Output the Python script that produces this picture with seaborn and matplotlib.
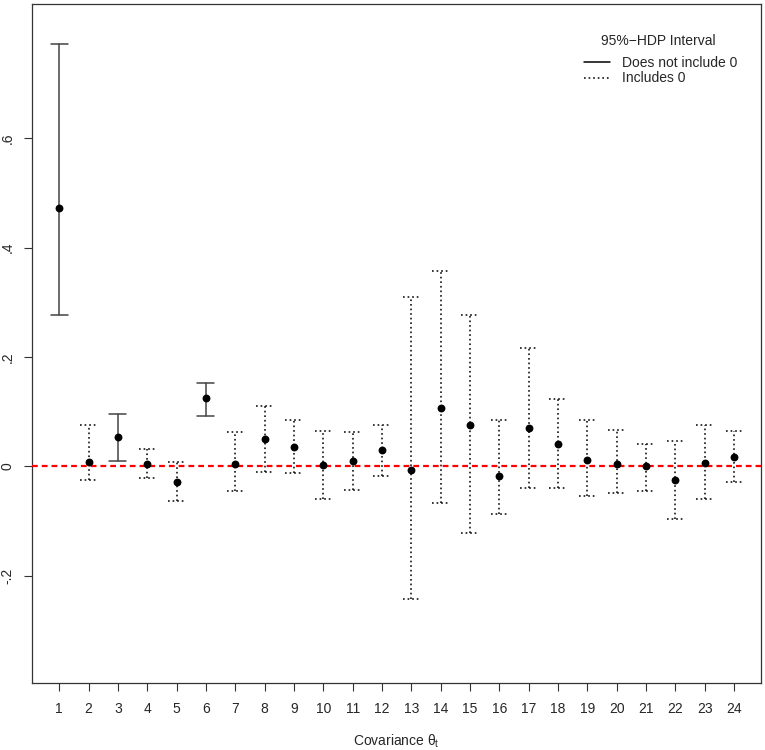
import numpy as np
import pandas as pd
import seaborn as sns
import matplotlib.pyplot as plt
from matplotlib.lines import Line2D

# posterior means and 95%-HDP bounds per covariance parameter
covariance = list(range(1, 25))
estimate = [0.473, 0.007, 0.053, 0.004, -0.028, 0.124, 0.005, 0.049, 0.036, 0.003, 0.009, 0.030,
            -0.006, 0.107, 0.075, -0.018, 0.070, 0.041, 0.011, 0.004, 0.000, -0.025, 0.006, 0.017]
lower = [0.277, -0.025, 0.010, -0.021, -0.063, 0.091, -0.046, -0.011, -0.013, -0.060, -0.044, -0.018,
         -0.242, -0.067, -0.122, -0.087, -0.039, -0.039, -0.054, -0.049, -0.045, -0.096, -0.060, -0.028]
upper = [0.773, 0.076, 0.095, 0.032, 0.007, 0.153, 0.062, 0.110, 0.084, 0.064, 0.062, 0.076,
         0.310, 0.358, 0.276, 0.084, 0.217, 0.123, 0.085, 0.067, 0.040, 0.047, 0.075, 0.065]
y_ticks = [-0.2, 0, 0.2, 0.4, 0.6]
y_tick_labels = ["-.2", "0", ".2", ".4", ".6"]

df = pd.DataFrame({"cov": covariance, "est": estimate, "lo": lower, "hi": upper})
df["excl_zero"] = (df["lo"] > 0) | (df["hi"] < 0)

sns.set_style("white")
plt.rcParams['font.family'] = ['Liberation Sans', 'DejaVu Sans']
plt.rcParams['mathtext.fontset'] = 'custom'
plt.rcParams['mathtext.rm'] = 'Liberation Sans'

fig = plt.figure(figsize=(7.65, 7.5), dpi=100)
ax = fig.add_axes([32.3 / 765, 1 - 682.7 / 750, (761 - 32.3) / 765, (682.7 - 3.8) / 750])

lw = 1.1
dotted = (0, (1.1, 1.9))
cap = 0.29
for _, r in df.iterrows():
    ls = '-' if r["excl_zero"] else dotted
    col = '#444444' if r["excl_zero"] else 'black'
    ax.plot([r["cov"], r["cov"]], [r["lo"], r["hi"]], color=col, lw=lw, linestyle=ls)
    ax.plot([r["cov"] - cap, r["cov"] + cap], [r["lo"], r["lo"]], color=col, lw=lw, linestyle=ls)
    ax.plot([r["cov"] - cap, r["cov"] + cap], [r["hi"], r["hi"]], color=col, lw=lw, linestyle=ls)

ax.axhline(0, color='red', lw=1.6, linestyle=(0, (2.6, 1.8)), zorder=3)

sns.scatterplot(data=df, x="cov", y="est", color='black', s=32, edgecolor='black',
                linewidth=0, ax=ax, zorder=4)

ax.set_xlim(0.08, 24.92)
ax.set_ylim(-0.396, 0.846)
ax.set_xticks(covariance)
ax.set_xticklabels([str(c) for c in covariance])
ax.set_yticks(y_ticks)
ax.set_yticklabels(y_tick_labels, rotation=90, va='center')
ax.tick_params(axis='both', direction='out', length=5.8, width=0.8, color='#333333',
               labelsize=10, pad=8, bottom=True, left=True)
ax.tick_params(axis='y', pad=7)
for s in ax.spines.values():
    s.set_visible(True)
    s.set_color('#333333')
    s.set_linewidth(0.9)

ax.set_xlabel(r"Covariance $\mathregular{\theta_t}$", fontsize=10, labelpad=12)
ax.set_ylabel("")

# legend title drawn separately to get R's spacing
fig.text(658 / 765, 1 - 40.7 / 750, "95%\u2212HDP Interval", ha='center', va='center', fontsize=10)
handles = [Line2D([0], [0], color='black', lw=lw, linestyle='-'),
           Line2D([0], [0], color='black', lw=lw, linestyle=dotted)]
leg = ax.legend(handles, ["Does not include 0", "Includes 0"],
                loc='upper left', bbox_to_anchor=(584 / 765, 1 - 56 / 750),
                bbox_transform=fig.transFigure, frameon=False, borderpad=0, borderaxespad=0,
                handlelength=1.85, handletextpad=0.9, labelspacing=0.1, fontsize=10)

fig.savefig("out.png", dpi=100)
